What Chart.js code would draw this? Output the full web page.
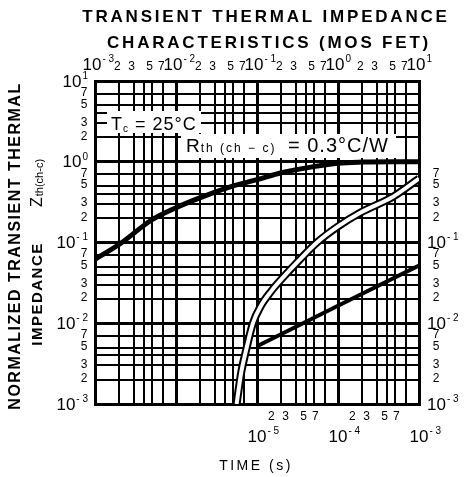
<!DOCTYPE html>
<html>
<head>
<meta charset="utf-8">
<script src="https://cdn.jsdelivr.net/npm/chart.js@4.4.1/dist/chart.umd.min.js"></script>
<style>
  html, body { margin: 0; padding: 0; background: #fff; }
  #wrap { width: 470px; height: 477px; }
</style>
</head>
<body>
<div id="wrap"><canvas id="zthChart" width="470" height="477"></canvas></div>
<script>
// Long pulse curve, read against the top time axis (s)
const longTime = [0.001, 0.002, 0.005, 0.01, 0.02, 0.05, 0.1, 0.2, 0.5, 1, 2, 5, 10];
const longZth = [0.062, 0.095, 0.19, 0.27, 0.36, 0.5, 0.6, 0.73, 0.87, 0.96, 0.99, 1.0, 1.0];

// Short pulse curves, read against the bottom time axis (s)
const shortTime = [5.6e-6, 6.4e-6, 7.2e-6, 8.9e-6, 1.1e-5, 1.5e-5, 2.1e-5, 3.3e-5, 5.5e-5, 1e-4, 1.9e-4, 4.8e-4, 1e-3];
const shortZth = [0.001, 0.0025, 0.0043, 0.01, 0.016, 0.025, 0.037, 0.06, 0.1, 0.158, 0.235, 0.37, 0.62];
const singleTime = [1e-5, 1e-4, 1e-3];
const singleZth = [0.0052, 0.0165, 0.052];

// Tick labels (decade exponents and the digits printed between them)
const topDecades = [-3, -2, -1, 0, 1];
const bottomDecades = [-5, -4, -3];
const leftDecades = [1, 0, -1, -2, -3];
const rightDecades = [-1, -2, -3];
const labelDigits = [2, 3, 5, 7];
const gridDigits = [1, 2, 3, 4, 5, 7];

const FONT = '"Liberation Sans", Arial, sans-serif';

function toPoints(xs, ys) {
  return xs.map((x, i) => ({ x: x, y: ys[i] }));
}

function isDecade(v) {
  const l = Math.log10(v);
  return Math.abs(l - Math.round(l)) < 1e-6;
}

// grid ticks at 1,2,3,4,5,7 of every decade
function gridTicks(minExp, maxExp) {
  const out = [];
  for (let e = minExp; e < maxExp; e++) {
    gridDigits.forEach((d) => out.push({ value: d * Math.pow(10, e) }));
  }
  out.push({ value: Math.pow(10, maxExp) });
  return out;
}

function gridScale(position, minExp, maxExp, showGrid) {
  const horizontal = position === "top" || position === "bottom";
  return {
    type: "logarithmic",
    position: position,
    min: Math.pow(10, minExp),
    max: Math.pow(10, maxExp),
    ticks: { display: false },
    grid: {
      display: showGrid,
      drawTicks: false,
      color: "#000",
      lineWidth: (c) => (c.tick && isDecade(c.tick.value) ? 3 : 2),
    },
    border: { display: true, color: "#000", width: 3 },
    afterBuildTicks: (scale) => {
      scale.ticks = gridTicks(minExp, maxExp);
    },
    afterFit: (scale) => {
      if (horizontal) scale.height = 0;
      else scale.width = 0;
    },
  };
}

function font(size, bold) {
  return (bold ? "bold " : "") + size + "px " + FONT;
}

// "10" with a raised exponent; x is where the centre of "10" sits
function drawPower(ctx, x, y, exp) {
  ctx.textBaseline = "middle";
  ctx.textAlign = "center";
  ctx.font = font(17);
  const w = ctx.measureText("10").width;
  ctx.fillText("10", x, y);
  ctx.textAlign = "left";
  ctx.font = font(10);
  ctx.fillText(exp, x + w / 2 + 1, y - 6);
}

const labelPlugin = {
  id: "labels",
  afterDraw(chart) {
    const ctx = chart.ctx;
    const xTop = chart.scales.xTop;
    const xBot = chart.scales.xBot;
    const y = chart.scales.y;
    ctx.save();
    ctx.fillStyle = "#000";

    // title
    ctx.textAlign = "center";
    ctx.textBaseline = "middle";
    ctx.font = font(17, true);
    ctx.letterSpacing = "2.8px";
    ctx.fillText("TRANSIENT THERMAL IMPEDANCE", 266, 17);
    ctx.fillText("CHARACTERISTICS (MOS FET)", 269, 43);

    // x title
    ctx.font = font(14);
    ctx.letterSpacing = "2.5px";
    ctx.fillText("TIME (s)", 256, 466);
    ctx.letterSpacing = "0px";

    // top axis
    topDecades.forEach((e, i) => {
      const v = Math.pow(10, e);
      drawPower(ctx, xTop.getPixelForValue(v) - 3, 65, String(e).replace("-", "- "));
      if (i < topDecades.length - 1) {
        ctx.font = font(12);
        ctx.textAlign = "center";
        labelDigits.forEach((d) => {
          ctx.fillText(String(d), xTop.getPixelForValue(d * v) - 2, 67);
        });
      }
    });

    // bottom axis
    bottomDecades.forEach((e, i) => {
      const v = Math.pow(10, e);
      drawPower(ctx, xBot.getPixelForValue(v), 437, String(e).replace("-", "- "));
      if (i < bottomDecades.length - 1) {
        ctx.font = font(12);
        ctx.textAlign = "center";
        labelDigits.forEach((d) => {
          ctx.fillText(String(d), xBot.getPixelForValue(d * v) - 10, 417);
        });
      }
    });

    // left axis
    leftDecades.forEach((e, i) => {
      const v = Math.pow(10, e);
      const py = y.getPixelForValue(v);
      ctx.font = font(10);
      const exp = String(e).replace("-", "- ");
      const we = ctx.measureText(exp).width;
      ctx.textAlign = "right";
      ctx.fillText(exp, 88, py - 5);
      ctx.font = font(17);
      ctx.fillText("10", 87 - we, py + 1);
      if (i < leftDecades.length - 1) {
        ctx.font = font(12);
        ctx.textAlign = "center";
        labelDigits.forEach((d) => {
          ctx.fillText(String(d), 84, y.getPixelForValue((d * v) / 10) - 1);
        });
      }
    });

    // right axis
    ctx.font = font(12);
    ctx.textAlign = "center";
    rightDecades.forEach((e) => {
      const v = Math.pow(10, e);
      labelDigits.forEach((d) => {
        ctx.fillText(String(d), 436, y.getPixelForValue(d * v) - 1);
      });
    });
    rightDecades.forEach((e) => {
      const v = Math.pow(10, e);
      const py = y.getPixelForValue(v);
      ctx.textAlign = "left";
      ctx.font = font(17);
      ctx.fillText("10", 427, py + 1);
      const w = ctx.measureText("10").width;
      ctx.font = font(10);
      ctx.fillText(String(e).replace("-", "- "), 428 + w, py - 5);
    });

    // y title
    ctx.save();
    ctx.translate(16, 246);
    ctx.rotate(-Math.PI / 2);
    ctx.textAlign = "center";
    ctx.font = font(16, true);
    ctx.letterSpacing = "1.5px";
    ctx.fillText("NORMALIZED TRANSIENT THERMAL", 0, 0);
    ctx.restore();

    ctx.save();
    ctx.translate(38, 294);
    ctx.rotate(-Math.PI / 2);
    ctx.textAlign = "center";
    ctx.font = font(15, true);
    ctx.letterSpacing = "1.5px";
    ctx.fillText("IMPEDANCE", 0, 0);
    ctx.restore();

    ctx.save();
    ctx.translate(38, 207);
    ctx.rotate(-Math.PI / 2);
    ctx.textAlign = "left";
    ctx.font = font(16);
    ctx.fillText("Z", 0, 0);
    const wz = ctx.measureText("Z").width;
    ctx.font = font(11);
    ctx.fillText("th(ch-c)", wz + 1, 2);
    ctx.restore();

    ctx.restore();
  },
  beforeDatasetsDraw(chart) {
    const ctx = chart.ctx;
    ctx.save();
    ctx.fillStyle = "#fff";
    ctx.fillRect(107, 111, 94, 22);
    ctx.fillRect(181, 134, 215, 24);
    ctx.fillStyle = "#000";
    ctx.textBaseline = "alphabetic";
    ctx.textAlign = "left";

    // Tc = 25°C
    ctx.font = font(18);
    ctx.fillText("T", 111, 130);
    let x = 111 + ctx.measureText("T").width;
    ctx.font = font(10);
    ctx.fillText("c", x + 1, 132);
    x += ctx.measureText("c").width + 8;
    ctx.font = font(18);
    ctx.letterSpacing = "1px";
    ctx.fillText("= 25°C", x, 130);

    // Rth(ch-c) = 0.3°C/W
    ctx.letterSpacing = "0px";
    ctx.font = font(19);
    ctx.fillText("R", 186, 152);
    x = 186 + ctx.measureText("R").width;
    ctx.font = font(12);
    ctx.letterSpacing = "2px";
    ctx.fillText("th (ch − c)", x + 1, 152);
    ctx.font = font(20);
    ctx.letterSpacing = "1px";
    ctx.fillText("= 0.3°C/W", 288, 152);
    ctx.restore();
  },
};

const ctx = document.getElementById("zthChart").getContext("2d");

new Chart(ctx, {
  type: "scatter",
  data: {
    datasets: [
      {
        label: "short inner",
        data: toPoints(shortTime, shortZth),
        xAxisID: "xBot",
        yAxisID: "y",
        showLine: true,
        borderColor: "#fff",
        borderWidth: 4,
        cubicInterpolationMode: "monotone",
        pointRadius: 0,
        clip: 0,
        order: 0,
      },
      {
        label: "short outline",
        data: toPoints(shortTime, shortZth),
        xAxisID: "xBot",
        yAxisID: "y",
        showLine: true,
        borderColor: "#000",
        borderWidth: 8,
        cubicInterpolationMode: "monotone",
        pointRadius: 0,
        clip: 0,
        order: 1,
      },
      {
        label: "long",
        data: toPoints(longTime, longZth),
        xAxisID: "xTop",
        yAxisID: "y",
        showLine: true,
        borderColor: "#000",
        borderWidth: 5,
        cubicInterpolationMode: "monotone",
        pointRadius: 0,
        clip: 0,
        order: 2,
      },
      {
        label: "single",
        data: toPoints(singleTime, singleZth),
        xAxisID: "xBot",
        yAxisID: "y",
        showLine: true,
        borderColor: "#000",
        borderWidth: 4,
        pointRadius: 0,
        clip: 0,
        order: 2,
      },
    ],
  },
  options: {
    responsive: false,
    animation: false,
    layout: { padding: { left: 95, right: 51, top: 81, bottom: 73 } },
    plugins: { legend: { display: false }, tooltip: { enabled: false } },
    scales: {
      xTop: gridScale("top", -3, 1, true),
      xBot: gridScale("bottom", -7, -3, false),
      y: gridScale("left", -3, 1, true),
      yRight: gridScale("right", -3, 1, false),
    },
  },
  plugins: [labelPlugin],
});
</script>
</body>
</html>
